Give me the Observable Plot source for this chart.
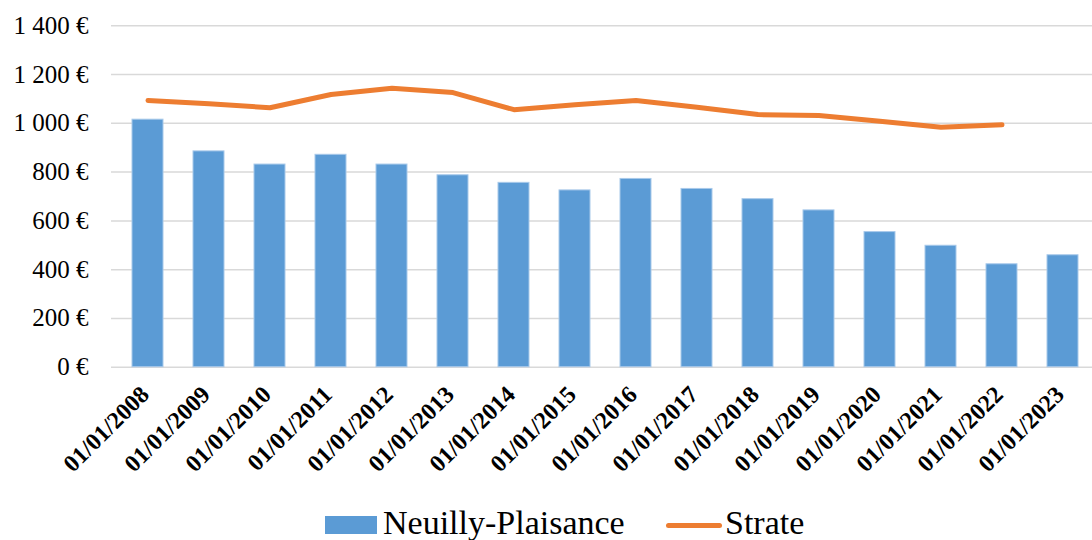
<!DOCTYPE html>
<html>
<head>
<meta charset="utf-8">
<script src="https://cdn.jsdelivr.net/npm/d3@7"></script>
<script src="https://cdn.jsdelivr.net/npm/@observablehq/plot@0.6"></script>
<style>
  html, body { margin: 0; padding: 0; background: #fff; overflow: hidden; }
  #wrap { position: relative; width: 1092px; height: 540px; font-family: 'Liberation Serif'; }
  #legend { position: absolute; left: 0; top: 0; width: 1092px; height: 540px; pointer-events: none; }
  .sw { position: absolute; }
  .lt { position: absolute; font-family: 'Liberation Serif'; font-size: 34px; color: #000; line-height: 1; white-space: nowrap; }
</style>
</head>
<body>
<div id="wrap">
  <div id="chart"></div>
  <div id="legend"></div>
</div>
<script>
const dates = ["01/01/2008","01/01/2009","01/01/2010","01/01/2011","01/01/2012","01/01/2013","01/01/2014","01/01/2015","01/01/2016","01/01/2017","01/01/2018","01/01/2019","01/01/2020","01/01/2021","01/01/2022","01/01/2023"];
const neuilly = [1015, 885, 831, 871, 831, 787, 756, 725, 772, 731, 689, 643, 554, 498, 422, 459];
const strate = [1094, 1080, 1064, 1118, 1144, 1126, 1056, 1076, 1094, 1066, 1036, 1032, 1009, 984, 994];
const yTicks = [0, 200, 400, 600, 800, 1000, 1200, 1400];
const seriesNames = ["Neuilly-Plaisance", "Strate"];
const colors = ["#5b9bd5", "#ed7d31"];

const bars = dates.map((d, i) => ({date: d, value: neuilly[i]}));
const line = strate.map((v, i) => ({date: dates[i], value: v}));

const fmt = v => d3.format(",")(v).replace(/,/g, "\u00a0") + "\u00a0€";
const FF = "Liberation Serif";

const chart = Plot.plot({
  width: 1092,
  height: 498,
  marginLeft: 111,
  marginRight: 0,
  marginTop: 25,
  marginBottom: 131,
  style: "font-family: 'Liberation Serif'; background: #fff; overflow: hidden;",
  x: {type: "band", domain: dates, range: [110.6, 1099.4], paddingInner: 0.5, paddingOuter: 0.25},
  y: {domain: [0, 1400], range: [366.7, 25.3]},
  marks: [
    Plot.gridY(yTicks, {stroke: "#d9d9d9", strokeOpacity: 1, strokeWidth: 1.5}),
    Plot.barY(bars, {x: "date", y: "value", fill: colors[0], stroke: "#a8c9ea", strokeWidth: 1}),
    Plot.lineY(line, {x: "date", y: "value", stroke: colors[1], strokeWidth: 5, strokeLinecap: "round", strokeLinejoin: "round"}),
    Plot.axisY(yTicks, {tickSize: 0, tickPadding: 23, tickFormat: fmt, fontSize: 25, fontFamily: FF, fill: "#000", label: null}),
    Plot.axisX({tickSize: 0, tickPadding: 23, dx: -3, tickRotate: -45, fontSize: 24, fontFamily: FF, fontWeight: "bold", fill: "#000", label: null})
  ]
});
document.getElementById("chart").appendChild(chart);

const lg = document.getElementById("legend");
lg.innerHTML = `
  <div class="sw" style="left:325px;top:516px;width:52px;height:18px;background:${colors[0]}"></div>
  <div class="lt" style="left:383px;top:506px;">${seriesNames[0]}</div>
  <div class="sw" style="left:666px;top:523px;width:56px;height:5px;border-radius:3px;background:${colors[1]}"></div>
  <div class="lt" style="left:725px;top:506px;">${seriesNames[1]}</div>
`;
</script>
</body>
</html>
